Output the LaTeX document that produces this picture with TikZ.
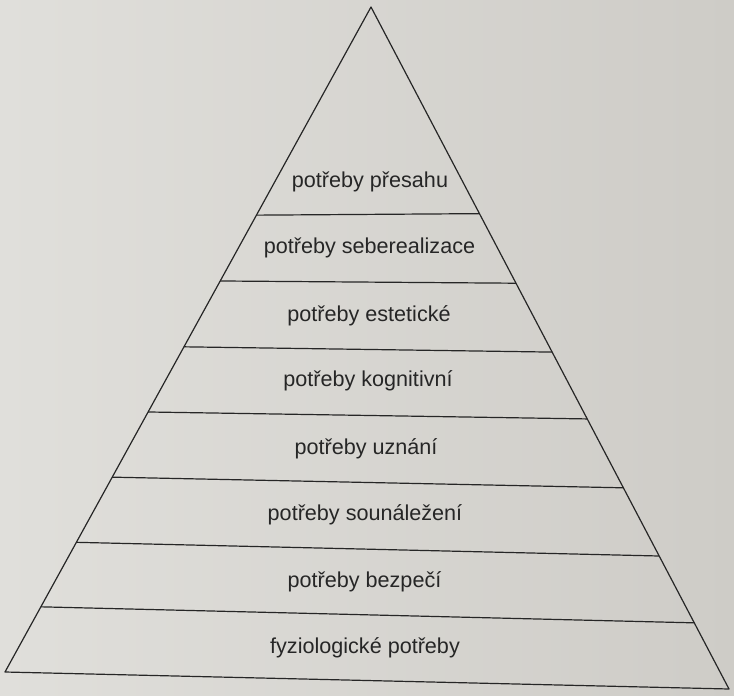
\documentclass[tikz,border=0pt]{standalone}
\usepackage{fontspec}
\setmainfont{Liberation Sans}
\usetikzlibrary{calc}
\definecolor{paperL}{RGB}{224,223,219}
\definecolor{paperR}{RGB}{206,204,199}
\definecolor{ink}{RGB}{38,38,38}

\begin{document}
\begin{tikzpicture}[x=1pt,y=-1pt,font=\fontsize{21.6}{26}\selectfont,
  need/.style={text=ink,anchor=center,inner sep=0pt}]

\shade[left color=paperL,right color=paperR] (0,0) rectangle (734,696);
\useasboundingbox (0,0) rectangle (734,696);


\begin{scope}[draw=ink,line width=1.2pt]
\coordinate (t) at (371,7);
\coordinate (l) at (5,672);
\coordinate (r) at (729,689);

\draw[line join=round] (t) -- (l) -- (r) -- cycle;

% layer borders, left and right fraction along the sides
\foreach \f/\g [count=\i] in {.313/.303,.412/.405,.511/.506,.609/.604,.707/.705,.805/.805,.902/.903}
  \draw ($(t)!\f!(l)$) coordinate (a\i) -- ($(t)!\g!(r)$) coordinate (b\i);
\end{scope}


\node[need] (presah) at (370,182) {potřeby přesahu};
\node[need] (seberealizace) at (369.5,248) {potřeby seberealizace};
\node[need] (estetika) at (369,316) {potřeby estetické};
\node[need] (kognice) at (368,381) {potřeby kognitivní};
\node[need] (uznani) at (366,449) {potřeby uznání};
\node[need] (sounalezeni) at (365,515) {potřeby sounáležení};
\node[need] (bezpeci) at (364.5,582) {potřeby bezpečí};
\node[need] (fyziologie) at (365,648) {fyziologické potřeby};

\end{tikzpicture}
\end{document}
